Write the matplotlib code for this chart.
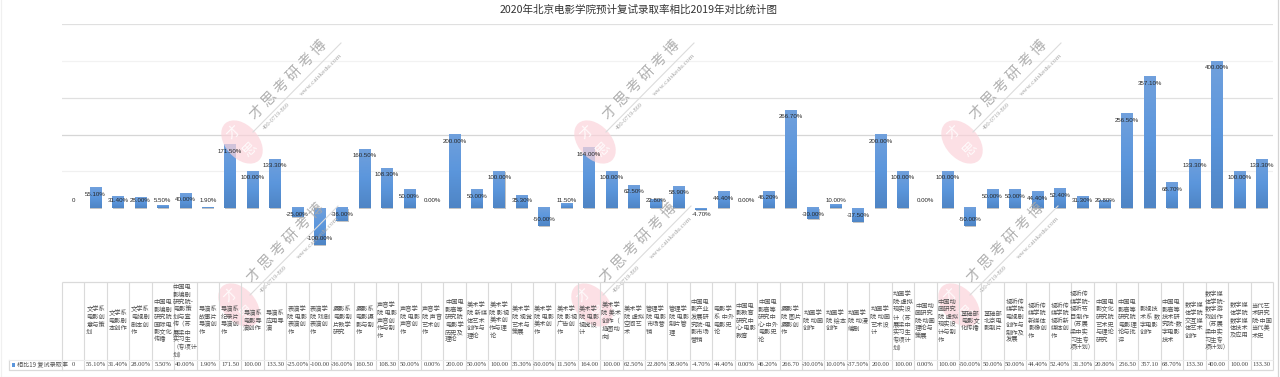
# -*- coding: utf-8 -*-
import numpy as np
import matplotlib
matplotlib.use("Agg")
import matplotlib.pyplot as plt
import matplotlib.patheffects as pe
from matplotlib.colors import LinearSegmentedColormap
from matplotlib.patches import Ellipse, Rectangle

plt.rcParams['font.family'] = ['Noto Sans CJK SC', 'DejaVu Sans']

# -----------------------------
# Donnees
# -----------------------------
title = "2020年北京电影学院预计复试录取率相比2019年对比统计图"
series_name = "相比19 复试录取率"

categories = [
    "",
    "文学系\n电影创\n意与策\n划",
    "文学系\n电影剧\n本创作",
    "文学系\n电视剧\n剧本创\n作",
    "中国电\n影编剧\n研究院\n国际电\n影文化\n传播",
    "中国电\n影编剧\n研究院-\n电影策\n划与宣\n传（苏\n展梁中\n实习生\n（专项计\n划）",
    "导演系\n故事片\n导演创\n作",
    "导演系\n纪录片\n导演创\n作",
    "导演系\n电影导\n演创作",
    "导演系\n应用导\n演",
    "表演学\n院 电影\n表演创\n作",
    "表演学\n院 戏剧\n表演创\n作",
    "摄影系\n电影制\n片教学\n研究",
    "摄影系\n电影摄\n影与制\n作",
    "声音学\n院 电影\n声音创\n作与制\n作",
    "声音学\n院 电影\n声音创\n作",
    "声音学\n院 声音\n艺术创\n作",
    "中国电\n影高等\n研究院\n电影学\n历史及\n理论",
    "美术学\n院 新媒\n体艺术\n创作与\n理论",
    "美术学\n院 影视\n美术创\n作与理\n论",
    "美术学\n院 视觉\n艺术与\n策展",
    "美术学\n院 电影\n美术创\n作",
    "美术学\n院 影视\n广告创\n作",
    "美术学\n院 电影\n视觉设\n计",
    "美术学\n院 美术\n创作（\n插图动\n向）",
    "美术学\n院 虚拟\n空间艺\n术",
    "管理学\n院 电影\n市场营\n销",
    "管理学\n院 电影\n制片管\n理",
    "中国电\n影产业\n发展研\n究院-电\n影市场\n营销",
    "电影学\n系 中外\n电影史\n论",
    "中国电\n影教育\n研究中\n心-电影\n教育",
    "中国电\n影高等\n研究中\n心-中外\n电影史\n论",
    "摄影学\n院 图片\n摄影创\n作",
    "动画学\n院 动画\n创作",
    "动画学\n院 绘本\n创作",
    "动画学\n院 动漫\n编剧",
    "动画学\n院 动画\n艺术设\n计",
    "动画学\n院-虚拟\n现实设\n计（苏\n展梁中\n实习生\n专项计\n划）",
    "中国动\n画研究\n院-动画\n理论与\n策展",
    "中国动\n画研究\n院 虚拟\n现实设\n计与制\n作",
    "基础部\n电影文\n化传播",
    "基础部\n北京电\n影制片",
    "视听传\n媒学院\n电视剧\n创作与\n制作及\n发展",
    "视听传\n媒学院\n新媒体\n影像创\n作",
    "视听传\n媒学院\n视听新\n媒体创\n作",
    "视听传\n媒学院-\n视听节\n目制作\n（苏展\n梁中实\n习生专\n项计划）",
    "中国电\n影文化\n研究院\n艺术史\n与理论\n研究",
    "中国电\n影高等\n研究院\n电影理\n论与批\n评",
    "影视技\n术系 数\n字电影\n创作",
    "中国电\n影高等\n技术研\n究院-数\n字电影\n技术",
    "数字媒\n体学院\n交互媒\n体艺术\n创作",
    "数字媒\n体学院-\n数字游\n戏创作\n（苏展\n梁中实\n习生专\n项计划）",
    "数字媒\n体学院\n数字媒\n体技术\n及应用",
    "当代艺\n术研究\n院-中国\n当代美\n术史",
]

values = [
    0, 55.10, 31.40, 28.00, 5.50, 40.00, 1.90, 171.50, 100.00, 133.30,
    -25.00, -100.00, -36.00, 160.50, 108.30, 50.00, 0.00, 200.00, 50.00, 100.00,
    35.30, -50.00, 11.50, 164.00, 100.00, 62.50, 22.80, 58.90, -4.70, 44.40,
    0.00, 46.20, 266.70, -30.00, 10.00, -37.50, 200.00, 100.00, 0.00, 100.00,
    -50.00, 50.00, 50.00, 44.40, 52.40, 31.30, 20.80, 256.50, 357.10, 68.70,
    133.30, 400.00, 100.00, 133.30,
]

grid_values = [100, 200, 300, 400, 500]
grid_colors = ['#f0f0f0', '#d6d6d6', '#e0e0e0', '#f2f2f2', '#e0e0e0']

# positions des filigranes (centre du tampon, en pixels)
stamps = [(242, 142), (595, 142), (962, 142), (239, 305), (592, 305), (959, 305)]

W, H = 1280, 377
X0, X1 = 62, 1273
Y_TOP, Y_AXIS, Y_ROW, Y_BOT = 24.3, 281.5, 360, 370


def box(x0, y0, x1, y1):
    return [x0 / W, 1 - y1 / H, (x1 - x0) / W, (y1 - y0) / H]


def bar_text(i, v):
    if i == 0:
        return "0"
    return f"{v:.2f}%"


def cell_text(i, v):
    if i == 0:
        return "0"
    # la colonne est trop etroite : le % disparait au dela de 100
    return f"{v:.2f}" if abs(v) >= 100 else f"{v:.2f}%"


fig = plt.figure(figsize=(W / 100, H / 100), dpi=100, facecolor='white')

# -----------------------------
# Calque en pixels : cadre, titre, legende, filigranes (sous les etiquettes)
# -----------------------------
ov = fig.add_axes([0, 0, 1, 1], zorder=3)
ov.patch.set_alpha(0)
ov.axis('off')
ov.set_xlim(0, W)
ov.set_ylim(H, 0)

ov.plot([1, 1], [0, 376.5], color='#f0f0f0', lw=0.9)
ov.plot([1, 1278], [376.5, 376.5], color='#f0f0f0', lw=0.9)
ov.plot([1278, 1278], [0, 376.5], color='#d4d4d4', lw=0.9)

ov.text(639, 10, title, ha='center', va='center', fontsize=7.6, color='#333333')

line_c = '#dadada'
ov.plot([9, 9, X0], [Y_ROW, Y_BOT, Y_BOT], color=line_c, lw=0.9)
ov.plot([9, X0], [Y_ROW, Y_ROW], color='#ececec', lw=0.8)
ov.add_patch(Rectangle((12, 362.5), 3.2, 4.5, color='#5b96dc', lw=0))
ov.text(17, 365, series_name, ha='left', va='center', fontsize=4.4, color='#505050')

for (cx, cy) in stamps:
    ov.add_patch(Ellipse((cx, cy), 50, 33, angle=48, facecolor='#fbd3da', edgecolor='none', alpha=0.7))
    ov.text(cx - 8, cy - 9, "才", rotation=45, ha='center', va='center', fontsize=10,
            color='white', alpha=0.85)
    ov.text(cx + 8, cy + 8, "思", rotation=45, ha='center', va='center', fontsize=10,
            color='white', alpha=0.85)
    ov.text(cx + 46, cy - 62, "才 思 考 研 考 博", rotation=46, ha='center', va='center',
            rotation_mode='anchor', fontsize=10.5, color='#a8a8a8', alpha=0.9)
    ov.plot([cx + 11, cx + 99], [cy - 10, cy - 99], color='#dcdcdc', lw=0.8)
    ov.text(cx + 35, cy - 26, "400-0719-869", rotation=45, ha='center', va='center',
            rotation_mode='anchor', fontsize=4.6, color='#a8a8a8',
            family=['Liberation Serif', 'DejaVu Serif'])
    ov.text(cx + 79, cy - 67, "www.caiskedu.com", rotation=45, ha='center', va='center',
            rotation_mode='anchor', fontsize=5.2, color='#a8a8a8',
            family=['Liberation Serif', 'DejaVu Serif'])

# -----------------------------
# Barres
# -----------------------------
ax = fig.add_axes(box(X0, Y_TOP, X1, Y_AXIS), zorder=2)
ax.patch.set_alpha(0)
for s in ax.spines.values():
    s.set_visible(False)
ax.set_xticks([])
ax.set_yticks([])

for g, c in zip(grid_values, grid_colors):
    ax.axhline(g, color=c, lw=0.9, zorder=1)

xs = np.arange(len(values))
bars = ax.bar(xs, values, width=0.52, color='#5b96dc', zorder=2)
for b in bars:
    b.set_path_effects([pe.withSimplePatchShadow(offset=(0.3, -0.7), shadow_rgbFace='#8a8a8a', alpha=0.5)])

cmap = LinearSegmentedColormap.from_list('barre', ['#70a0dc', '#5b96dc', '#4f85c5'])
grad = np.linspace(0, 1, 64).reshape(-1, 1)
for x, v in zip(xs, values):
    if v != 0:
        ax.imshow(grad, cmap=cmap, aspect='auto', zorder=3,
                  extent=[x - 0.26, x + 0.26, min(v, 0), max(v, 0)])

ax.set_xlim(-0.5, len(values) - 0.5)
ax.set_ylim(-200, 500)

# -----------------------------
# Table de donnees et etiquettes, au dessus du filigrane
# -----------------------------
at = fig.add_axes(box(X0, Y_AXIS, X1, Y_BOT), zorder=4)
at.patch.set_alpha(0)
at.axis('off')
at.set_xlim(-0.5, len(values) - 0.5)
at.set_ylim(Y_BOT, Y_AXIS)

at.vlines(np.arange(len(values) + 1) - 0.5, Y_AXIS, Y_BOT, color=line_c, lw=0.8, clip_on=False)
at.hlines([Y_AXIS, Y_BOT], -0.5, len(values) - 0.5, color=line_c, lw=0.9, clip_on=False)
at.hlines(Y_ROW, -0.5, len(values) - 0.5, color='#ececec', lw=0.8, clip_on=False)

for i, (x, lab, v) in enumerate(zip(xs, categories, values)):
    at.text(x, (Y_AXIS + Y_ROW) / 2, lab, ha='center', va='center', multialignment='left',
            fontsize=4.5, color='#505050', linespacing=0.93)
    at.text(x, (Y_ROW + Y_BOT) / 2, cell_text(i, v), ha='center', va='center', fontsize=4.7,
            family=['Liberation Serif', 'DejaVu Serif'], color='#404040')

al = fig.add_axes(box(X0, Y_TOP, X1, Y_AXIS), zorder=5)
al.patch.set_alpha(0)
al.axis('off')
al.set_xlim(-0.5, len(values) - 0.5)
al.set_ylim(-200, 500)
for i, (x, v) in enumerate(zip(xs, values)):
    if v >= 0:
        y = max(v - 17.7, 20)
    else:
        y = min(v + 17.7, -18)
    al.text(x, y, bar_text(i, v), ha='center', va='center', fontsize=4.4,
            family=['Liberation Sans', 'DejaVu Sans'], color='#262626')

fig.savefig('out.png', dpi=100)
